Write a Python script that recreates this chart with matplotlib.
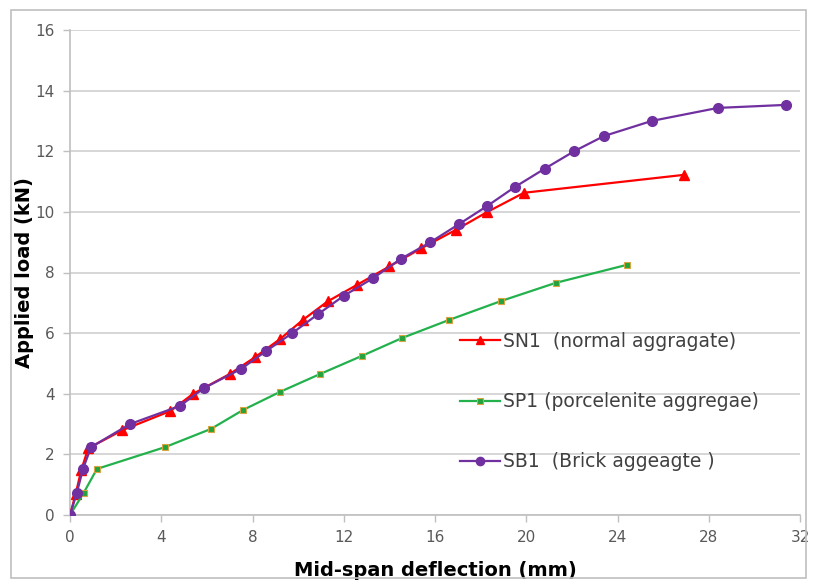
import matplotlib
matplotlib.use('Agg')
import matplotlib.pyplot as plt
from matplotlib.patches import Rectangle

# Mid-span deflection (mm) and applied load (kN) for each beam
sn1_x = [0, 0.25, 0.5, 0.8, 2.3, 4.4, 5.4, 7.0, 8.1, 9.2, 10.2, 11.3, 12.6, 14.0, 15.4, 16.9, 18.3, 19.9, 26.9]
sn1_y = [0, 0.7, 1.5, 2.2, 2.8, 3.43, 4.0, 4.65, 5.2, 5.8, 6.43, 7.05, 7.6, 8.2, 8.8, 9.4, 10.0, 10.63, 11.22]

sp1_x = [0, 0.6, 1.18, 4.17, 6.18, 7.6, 9.2, 10.96, 12.8, 14.56, 16.6, 18.9, 21.3, 24.4]
sp1_y = [0, 0.73, 1.52, 2.24, 2.84, 3.47, 4.06, 4.65, 5.25, 5.84, 6.43, 7.06, 7.66, 8.25]

sb1_x = [0, 0.3, 0.57, 0.92, 2.63, 4.82, 5.88, 7.5, 8.6, 9.74, 10.88, 12.0, 13.3, 14.5,
         15.8, 17.06, 18.3, 19.5, 20.8, 22.1, 23.4, 25.5, 28.4, 31.4]
sb1_y = [0, 0.73, 1.52, 2.24, 3.0, 3.6, 4.19, 4.82, 5.41, 6.0, 6.63, 7.23, 7.82, 8.45,
         9.0, 9.6, 10.2, 10.82, 11.42, 12.0, 12.5, 13.0, 13.43, 13.53]

labels = ['SN1  (normal aggragate)', 'SP1 (porcelenite aggregae)', 'SB1  (Brick aggeagte )']
x_ticks = [0, 4, 8, 12, 16, 20, 24, 28, 32]
y_ticks = [0, 2, 4, 6, 8, 10, 12, 14, 16]

fig = plt.figure(figsize=(8.13, 5.85), dpi=100)
ax = fig.add_axes([70 / 813, 1 - 515 / 585, 730 / 813, 485 / 585])

# chart area border
fig.patches.append(Rectangle((11 / 813, 7 / 585), 795 / 813, 568 / 585, transform=fig.transFigure,
                             fill=False, edgecolor='#bfbfbf', linewidth=1.2))

ax.plot(sn1_x, sn1_y, color='#ff0000', linewidth=1.6, marker='^', markersize=6.5,
        markerfacecolor='#ff0000', markeredgecolor='#ff0000', label=labels[0], zorder=3)
ax.plot(sp1_x, sp1_y, color='#22b14c', linewidth=1.6, marker='s', markersize=4.5,
        markerfacecolor='#22a33c', markeredgecolor='#d9a441', markeredgewidth=0.8,
        label=labels[1], zorder=3)
ax.plot(sb1_x, sb1_y, color='#7030a0', linewidth=1.6, marker='o', markersize=7,
        markerfacecolor='#7030a0', markeredgecolor='#7030a0', label=labels[2], zorder=4)

ax.set_xlim(0, 32)
ax.set_ylim(0, 16)
ax.set_xticks(x_ticks)
ax.set_yticks(y_ticks)
ax.grid(axis='y', color='#d0d0d0', linewidth=1.2)
ax.set_axisbelow(True)

for side in ['top', 'right']:
    ax.spines[side].set_visible(False)
for side in ['left', 'bottom']:
    ax.spines[side].set_color('#bfbfbf')
    ax.spines[side].set_linewidth(1.2)

ax.tick_params(axis='both', colors='#bfbfbf', labelcolor='#595959', labelsize=11,
               length=5, width=1, direction='out')
ax.tick_params(axis='x', pad=6)
ax.tick_params(axis='y', pad=6)

ax.set_xlabel('Mid-span deflection (mm)', fontsize=14, fontweight='bold', color='#000000')
ax.set_ylabel('Applied load (kN)', fontsize=14, fontweight='bold', color='#000000')
ax.xaxis.set_label_coords(0.5, -0.095)
ax.yaxis.set_label_coords(-0.049, 0.5)

leg = ax.legend(loc='upper left', bbox_to_anchor=(0.524, 0.393), frameon=False, fontsize=13.5,
                labelspacing=2.2, handlelength=2.15, handletextpad=0.12, borderaxespad=0,
                markerscale=0.85)
for t in leg.get_texts():
    t.set_color('#404040')

fig.savefig('out.png', dpi=100, facecolor='white')
